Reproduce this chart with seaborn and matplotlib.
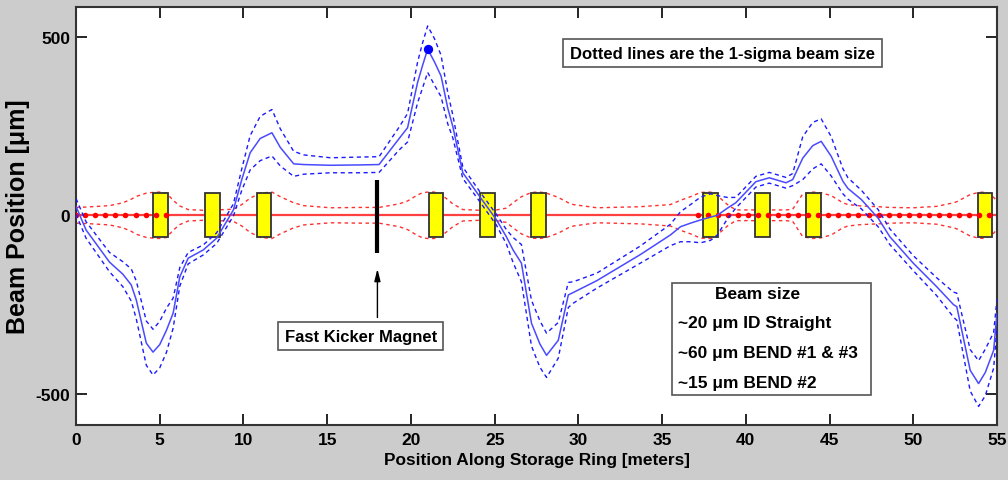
import numpy as np
import pandas as pd
import matplotlib
matplotlib.use("Agg")
import matplotlib.pyplot as plt
import seaborn as sns

# orbit readings along the ring: position [m], beam position [um], 1-sigma beam size [um]
pos = [0.0, 0.6, 2.0, 2.8, 3.3, 3.6, 4.2, 4.6, 5.0, 5.4, 5.8, 6.2, 6.7, 7.6, 8.4,
       9.4, 9.9, 10.4, 11.0, 11.7, 12.2, 13.0, 13.6, 15.2, 17.0, 18.1, 19.3, 19.8,
       20.4, 20.7, 21.0, 21.4, 21.8, 22.2, 22.5, 23.1, 24.1, 25.1, 25.7, 26.1, 26.6,
       27.2, 27.7, 28.1, 28.8, 29.4, 29.7, 31.1, 33.7, 35.5, 36.1, 36.7, 37.3, 37.9,
       38.3, 38.9, 39.4, 40.6, 41.4, 42.4, 42.8, 43.4, 44.0, 44.5, 45.1, 45.8, 46.1,
       46.9, 47.9, 48.6, 50.0, 51.4, 52.4, 52.6, 53.4, 53.9, 54.3, 54.8, 55.0]
orbit = [25, -41, -131, -165, -195, -237, -358, -383, -362, -322, -274, -172, -120, -97, -64,
         15, 100, 175, 215, 231, 190, 144, 142, 140, 141, 142, 215, 245,
         372, 420, 465, 430, 390, 300, 249, 119, 53, -12, -60, -97, -134,
         -302, -360, -392, -350, -223, -216, -183, -110, -55, -32, -22, -13, -5,
         0, 20, 35, 94, 105, 91, 100, 160, 195, 207, 165, 95, 75,
         44, -8, -60, -134, -200, -250, -256, -434, -471, -440, -378, -274]
sigma = [22, 23, 27, 35, 45, 53, 62, 64, 65, 62, 42, 26, 16, 14, 15,
         17, 30, 48, 62, 65, 52, 35, 27, 21, 22, 22, 32, 40,
         57, 63, 65, 65, 58, 44, 32, 16, 14, 15, 20, 35, 52,
         64, 65, 62, 50, 35, 30, 21, 24, 30, 42, 52, 64, 65,
         55, 30, 15, 15, 15, 15, 17, 60, 65, 63, 55, 35, 30,
         26, 24, 22, 21, 25, 35, 38, 58, 64, 65, 50, 40]

# magnets (yellow boxes) and beam position monitors
magnet_pos = [5.06, 8.15, 11.22, 21.49, 24.56, 27.63, 37.89, 40.98, 44.05, 54.28]
magnet_half = 62
bpm_pos = [0.0, 0.54, 1.13, 1.73, 2.33, 2.93, 3.56, 4.16, 4.75, 5.35,
           37.15, 37.75, 38.34, 38.94, 39.54, 40.13, 40.73, 41.33, 41.92, 42.52,
           43.12, 43.72, 44.31, 44.91, 45.51, 46.10, 46.70, 47.36, 47.95, 48.55,
           49.15, 49.75, 50.34, 50.94, 51.54, 52.14, 52.73, 53.33, 53.93, 54.52]
kicker_x = 18.0

df = pd.DataFrame({"pos": pos, "orbit": orbit, "sigma": sigma})
df["orb_hi"] = df.orbit + df.sigma
df["orb_lo"] = df.orbit - df.sigma

sns.set_theme(style="ticks")
plt.rcParams["font.family"] = ["Liberation Sans", "DejaVu Sans"]
plt.rcParams["font.weight"] = "bold"
plt.rcParams["text.color"] = "black"
plt.rcParams["axes.labelcolor"] = "black"
plt.rcParams["axes.unicode_minus"] = False

fig = plt.figure(figsize=(10.08, 4.81), dpi=100, facecolor="#cccccc")
ax = fig.add_axes([76 / 1008, 55 / 481, 921 / 1008, 418 / 481])
ax.set_facecolor("white")

# zero line, bpms and sigma envelope
ax.axhline(0, color="#ff4040", lw=1.6, zorder=1)
sns.scatterplot(x=bpm_pos, y=np.zeros(len(bpm_pos)), color="red", s=16,
                linewidth=0, ax=ax, zorder=3)
sns.lineplot(x=df.pos, y=df.sigma, color="#ff3030", lw=1, dashes=(2.5, 2.5),
             ax=ax, sort=False, estimator=None, zorder=2)
sns.lineplot(x=df.pos, y=-df.sigma, color="#ff3030", lw=1, dashes=(2.5, 2.5),
             ax=ax, sort=False, estimator=None, zorder=2)

# magnets
ax.bar(magnet_pos, 2 * magnet_half, bottom=-magnet_half, width=0.87,
       color="#ffff00", edgecolor="#333333", linewidth=1.3, zorder=2.5)

# beam orbit
sns.lineplot(data=df, x="pos", y="orbit", color="#4a4aff", lw=1.1, ax=ax,
             sort=False, estimator=None, zorder=4)
for col in ["orb_hi", "orb_lo"]:
    sns.lineplot(data=df, x="pos", y=col, color="#1a1aff", lw=1, dashes=(3, 2.5),
                 ax=ax, sort=False, estimator=None, zorder=4)
peak = df.loc[df.orbit.idxmax()]
sns.scatterplot(x=[peak.pos], y=[peak.orbit], color="#0000ff", s=45, linewidth=0,
                ax=ax, zorder=5)

# fast kicker
ax.vlines(kicker_x, -105, 100, color="black", lw=3, zorder=5)
ax.annotate("", xy=(kicker_x, -142), xytext=(kicker_x, -294),
            arrowprops=dict(arrowstyle="-|>,head_length=0.6,head_width=0.15",
                            color="black", lw=1))
box = dict(boxstyle="square,pad=0.4", fc="white", ec="#555555", lw=1.2)
ax.text(17.0, -338, "Fast Kicker Magnet", ha="center", va="center",
        fontsize=12, fontweight="bold", bbox=box, zorder=6)
ax.text(38.6, 454, "Dotted lines are the 1-sigma beam size", ha="center",
        va="center", fontsize=12, fontweight="bold", bbox=box, zorder=6)

ax.add_patch(plt.Rectangle((35.6, -503), 11.85, 313, fc="white", ec="#555555",
                           lw=1.2, zorder=6))
ax.text(40.7, -218, "Beam size", ha="center", va="center", fontsize=12.5,
        fontweight="bold", zorder=7)
for yy, s in zip([-299, -383, -468],
                 ["~20 \u03bcm ID Straight", "~60 \u03bcm BEND #1 & #3",
                  "~15 \u03bcm BEND #2"]):
    ax.text(35.95, yy, s, ha="left", va="center", fontsize=12.5,
            fontweight="bold", zorder=7)

ax.set_xlim(0, 55)
ax.set_ylim(-587, 583)
ax.set_xticks(range(0, 56, 5))
ax.set_yticks([-500, 0, 500])
ax.tick_params(direction="in", length=8, width=1.2, top=True, right=True,
               labelsize=12.5, pad=5, colors="black")
ax.tick_params(axis="y", pad=4)
for lab in ax.get_xticklabels() + ax.get_yticklabels():
    lab.set_fontweight("bold")
for sp in ax.spines.values():
    sp.set_color("#333333")
    sp.set_linewidth(1.5)

ax.set_xlabel("Position Along Storage Ring [meters]", fontsize=12.4,
              fontweight="bold", labelpad=4)
ax.set_ylabel("Beam Position [\u03bcm]", fontsize=18, fontweight="bold")
ax.yaxis.set_label_coords(-0.05, 0.5)

fig.savefig("out.png", dpi=100, facecolor=fig.get_facecolor())
